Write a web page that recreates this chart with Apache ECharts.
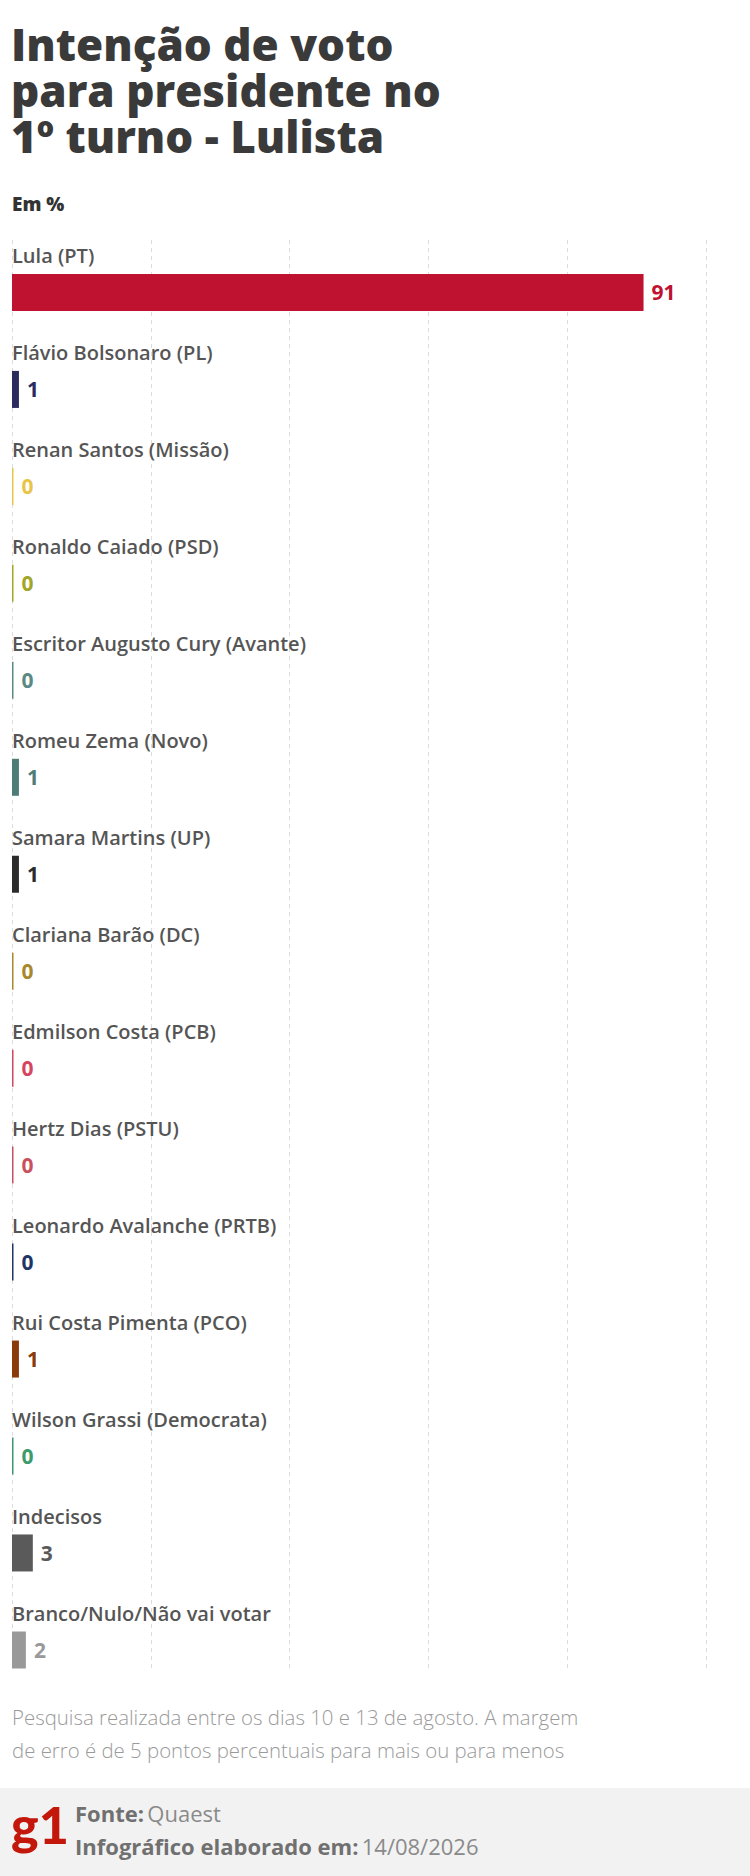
<!DOCTYPE html>
<html><head><meta charset="utf-8">
<script src="https://cdn.jsdelivr.net/npm/echarts@6/dist/echarts.min.js"></script>
<style>html,body{margin:0;padding:0;background:#fff}#c{width:750px;height:1876px}</style>
</head>
<body><div id="c"></div>
<script>
const categories = [
  'Lula (PT)', 'Flávio Bolsonaro (PL)', 'Renan Santos (Missão)', 'Ronaldo Caiado (PSD)',
  'Escritor Augusto Cury (Avante)', 'Romeu Zema (Novo)', 'Samara Martins (UP)',
  'Clariana Barão (DC)', 'Edmilson Costa (PCB)', 'Hertz Dias (PSTU)',
  'Leonardo Avalanche (PRTB)', 'Rui Costa Pimenta (PCO)', 'Wilson Grassi (Democrata)',
  'Indecisos', 'Branco/Nulo/Não vai votar'
];
const values = [91, 1, 0, 0, 0, 1, 1, 0, 0, 0, 0, 1, 0, 3, 2];
const colors = [
  '#bf1230', '#2b2b5e', '#e8c547', '#a3a526', '#5b8a84', '#4e7d77', '#2b2b2b',
  '#a8882a', '#d6455e', '#c9505e', '#1e3567', '#8a3b0c', '#3d9a6b', '#5a5a5a', '#999999'
];
const xTicks = [0, 20, 40, 60, 80, 100];
const titleLines = ['Intenção de voto', 'para presidente no', '1º turno - Lulista'];
const unitText = 'Em %';
const noteLines = ['Pesquisa realizada entre os dias 10 e 13 de agosto. A margem',
                   'de erro é de 5 pontos percentuais para mais ou para menos'];
const sourceText = 'Quaest';
const dateText = '14/08/2026';

const chart = echarts.init(document.getElementById('c'), null, {renderer: 'svg', width: 750, height: 1876});
const FONT = 'Open Sans';
const xMin = xTicks[0], xMax = xTicks[xTicks.length - 1], xStep = xTicks[1] - xTicks[0];

const graphics = [];
graphics.push({type: 'text', left: 11, top: 21,
  style: {text: titleLines.join('\n'), font: '800 44px "Open Sans"', lineHeight: 46, fill: '#3a3a3a'}});
graphics.push({type: 'text', left: 12, top: 194, style: {text: unitText, font: '800 19px "Open Sans"', fill: '#333'}});
graphics.push({type: 'text', left: 12, top: 1700,
  style: {text: noteLines.join('\n'), font: '300 20.4px "Open Sans"', lineHeight: 33, fill: '#9a9a9a'}});
graphics.push({type: 'rect', shape: {x: 0, y: 1788, width: 750, height: 88}, style: {fill: '#f2f2f2'}, z: -1});
graphics.push({type: 'text', left: 11, top: 1798, style: {text: 'g1', font: '900 52px Lato', fill: '#c4170c'}});
graphics.push({type: 'text', left: 75, top: 1802, style: {
  text: '{b|Fonte:} {r|' + sourceText + '}\n{b|Infográfico elaborado em:} {r|' + dateText + '}',
  rich: {b: {font: '700 22px "Open Sans"', fill: '#707070', lineHeight: 33},
         r: {font: '400 22px "Open Sans"', fill: '#8a8a8a', lineHeight: 33}}}});

chart.setOption({
  animation: false,
  grid: [
    {left: 12, width: 694, top: 244, height: 1454.4},
    {left: 12, width: 694, top: 240, height: 1428}
  ],
  xAxis: [
    {type: 'value', gridIndex: 0, min: xMin, max: xMax, interval: xStep, show: false},
    {type: 'value', gridIndex: 1, min: xMin, max: xMax, interval: xStep,
      axisLabel: {show: false}, axisLine: {show: false}, axisTick: {show: false},
      splitLine: {show: true, lineStyle: {type: [4, 4], color: '#dcdcdc', width: 1}}}
  ],
  yAxis: [
    {type: 'category', gridIndex: 0, data: categories, inverse: true,
      axisLine: {show: false}, axisTick: {show: false}, splitLine: {show: false},
      axisLabel: {show: false}},
    {type: 'value', gridIndex: 1, show: false}
  ],
  series: [{
    type: 'bar', xAxisIndex: 0, yAxisIndex: 0, barWidth: 37, barMinHeight: 1.5,
    data: values.map((v, i) => ({value: v, itemStyle: {color: colors[i]}, label: {color: colors[i]}})),
    label: {show: true, position: 'right', distance: 8, fontSize: 21, fontWeight: 700, fontFamily: FONT}
  }, {
    type: 'bar', xAxisIndex: 0, yAxisIndex: 0, barWidth: 37, barGap: '-100%', barMinHeight: 1,
    silent: true, z: 3,
    data: values.map(() => 0),
    itemStyle: {color: 'rgba(0,0,0,0)'},
    label: {show: true, position: [0, -8], align: 'left', verticalAlign: 'bottom',
      formatter: p => categories[p.dataIndex],
      fontSize: 20, fontWeight: 600, color: '#555', fontFamily: FONT}
  }],
  graphic: graphics
});
</script>
</body></html>
